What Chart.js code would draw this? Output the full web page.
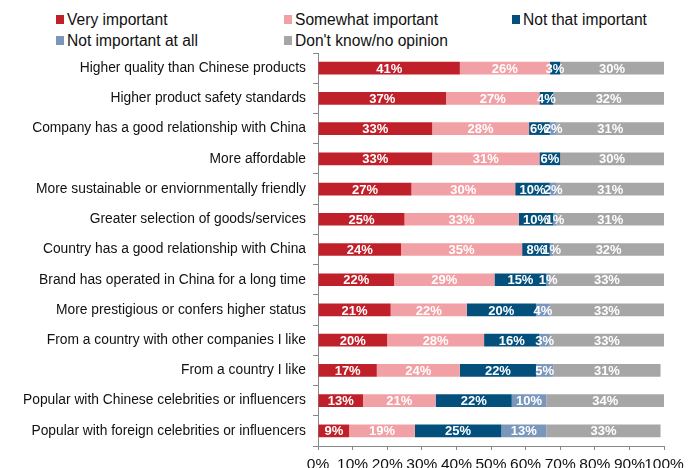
<!DOCTYPE html>
<html>
<head>
<meta charset="utf-8">
<script src="https://cdn.jsdelivr.net/npm/chart.js@4.4.1/dist/chart.umd.min.js"></script>
<style>
    body { margin: 0; background: #fff; font-family: 'Liberation Sans', Arial, sans-serif; }
    #wrap { position: relative; width: 696px; height: 468px; overflow: hidden; }
    #legend { position: absolute; left: 56px; top: 9px; display: grid;
              grid-template-columns: 228px 228px 180px; grid-auto-rows: 21px;
              font-size: 15.6px; color: #111; }
    .item { display: flex; align-items: center; white-space: nowrap; }
    .swatch { width: 8px; height: 9px; margin-right: 3px; flex: none; }
    canvas { position: absolute; left: 0; top: 0; }
</style>
</head>
<body>
<div id="wrap">
    <div id="legend"></div>
    <canvas id="reasonChart" width="696" height="468"></canvas>
</div>
<script>
// Survey answers, share of respondents (%)
const categories = [
    'Higher quality than Chinese products',
    'Higher product safety standards',
    'Company has a good relationship with China',
    'More affordable',
    'More sustainable or enviornmentally friendly',
    'Greater selection of goods/services',
    'Country has a good relationship with China',
    'Brand has operated in China for a long time',
    'More prestigious or confers higher status',
    'From a country with other companies I like',
    'From a country I like',
    'Popular with Chinese celebrities or influencers',
    'Popular with foreign celebrities or influencers'
];
const veryImportant     = [41, 37, 33, 33, 27, 25, 24, 22, 21, 20, 17, 13, 9];
const somewhatImportant = [26, 27, 28, 31, 30, 33, 35, 29, 22, 28, 24, 21, 19];
const notThatImportant  = [3, 4, 6, 6, 10, 10, 8, 15, 20, 16, 22, 22, 25];
const notImportantAtAll = [0, 0, 2, 0, 2, 1, 1, 1, 4, 3, 5, 10, 13];
const dontKnow          = [30, 32, 31, 30, 31, 31, 32, 33, 33, 33, 31, 34, 33];
const xTicks = [0, 10, 20, 30, 40, 50, 60, 70, 80, 90, 100];

const seriesNames = ['Very important', 'Somewhat important', 'Not that important',
                     'Not important at all', "Don't know/no opinion"];
const seriesColors = ['#C0202A', '#F1A1A5', '#03507D', '#7A96BB', '#A6A6A6'];
const seriesData = [veryImportant, somewhatImportant, notThatImportant, notImportantAtAll, dontKnow];

const FONT = "'Liberation Sans', Arial, sans-serif";

// legend laid out in a fixed 3-column grid
const legendEl = document.getElementById('legend');
seriesNames.forEach((name, i) => {
    const item = document.createElement('div');
    item.className = 'item';
    item.innerHTML = `<span class="swatch" style="background:${seriesColors[i]}"></span><span>${name}</span>`;
    legendEl.appendChild(item);
});

// white % labels centred in every non-empty segment
const segmentLabels = {
    id: 'segmentLabels',
    afterDatasetsDraw(chart) {
        const ctx = chart.ctx;
        ctx.save();
        ctx.font = `bold 13px ${FONT}`;
        ctx.fillStyle = '#fff';
        ctx.textAlign = 'center';
        ctx.textBaseline = 'middle';
        chart.data.datasets.forEach((ds, i) => {
            chart.getDatasetMeta(i).data.forEach((bar, j) => {
                const v = ds.data[j];
                if (!v) return;
                ctx.fillText(v + '%', (bar.x + bar.base) / 2, bar.y + 1);
            });
        });
        ctx.restore();
    }
};

const ctx = document.getElementById('reasonChart').getContext('2d');
new Chart(ctx, {
    type: 'bar',
    data: {
        labels: categories,
        datasets: seriesData.map((d, i) => ({
            label: seriesNames[i],
            data: d,
            backgroundColor: seriesColors[i],
            borderWidth: 0,
            barPercentage: 0.42,
            categoryPercentage: 1
        }))
    },
    options: {
        indexAxis: 'y',
        responsive: false,
        animation: false,
        layout: { padding: { top: 53, right: 32, left: 0, bottom: 0 } },
        plugins: {
            legend: { display: false },
            tooltip: { enabled: false }
        },
        scales: {
            x: {
                stacked: true,
                min: 0,
                max: 100,
                afterFit: scale => { scale.height = 22; },
                afterBuildTicks: scale => { scale.ticks = xTicks.map(v => ({ value: v })); },
                ticks: {
                    padding: 5,
                    color: '#111',
                    font: { family: FONT, size: 15.5 },
                    maxRotation: 0,
                    autoSkip: false,
                    callback: v => v + '%'
                },
                grid: { drawOnChartArea: false, tickLength: 4, color: '#888' },
                border: { color: '#888' }
            },
            y: {
                stacked: true,
                afterFit: scale => { scale.width = 318; },
                ticks: {
                    padding: 7,
                    color: '#111',
                    font: { family: FONT, size: 13.8 },
                    autoSkip: false
                },
                grid: { drawOnChartArea: false, offset: true, tickLength: 5, color: '#888' },
                border: { color: '#888' }
            }
        }
    },
    plugins: [segmentLabels]
});
</script>
</body>
</html>
